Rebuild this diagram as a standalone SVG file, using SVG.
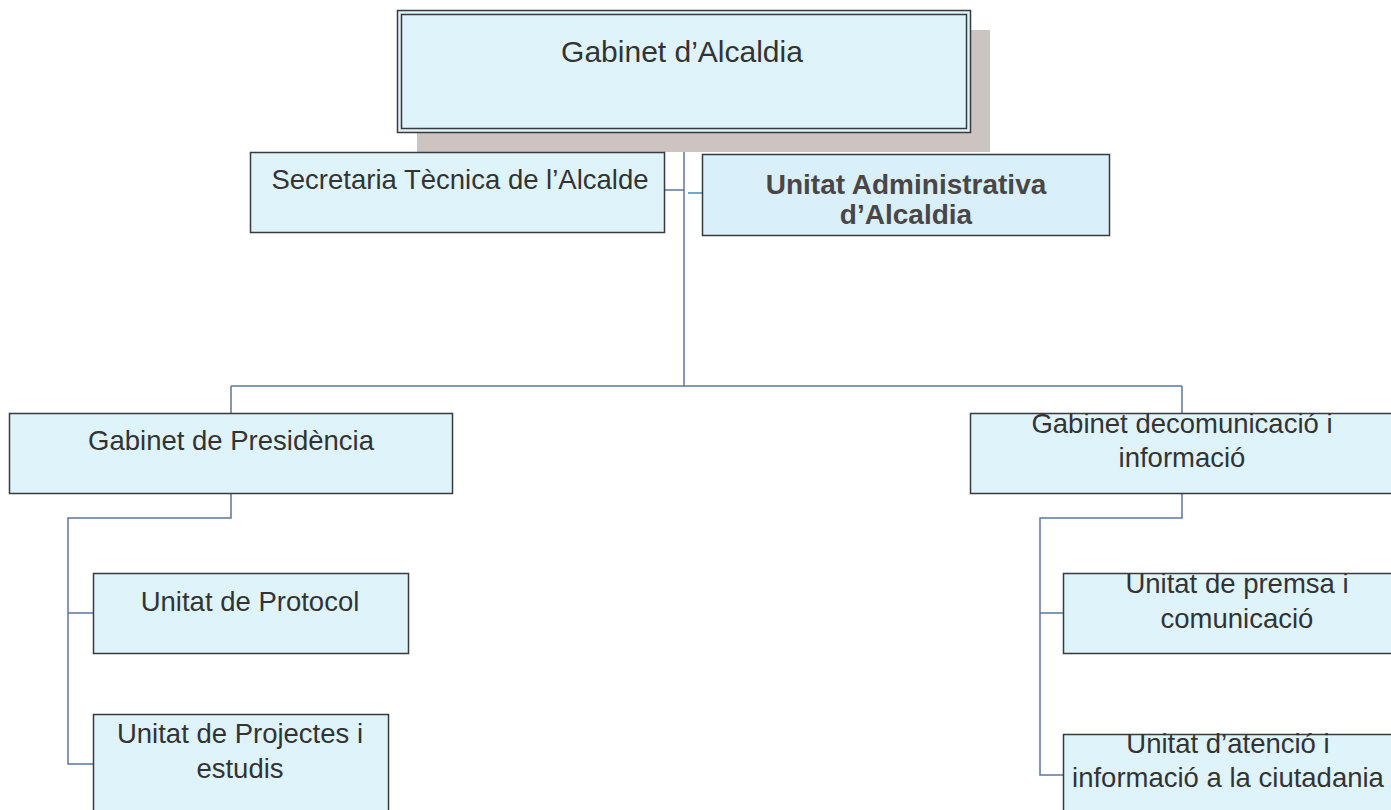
<svg xmlns="http://www.w3.org/2000/svg" width="1391" height="810" viewBox="0 0 1391 810">
<style>
.box{fill:#dff3fb;stroke:#3a3a3a;stroke-width:1.5}
.t{font-family:"Liberation Sans",Arial,sans-serif;font-size:27.5px;fill:#333;text-anchor:middle}
.b{font-weight:bold;fill:#4a4646;font-size:28px}
.c{fill:none;stroke:#5b76a0;stroke-width:1.5}
</style>
<rect width="1391" height="810" fill="#fff"/>
<g id="connectors">
<path class="c" d="M684,132V386M665,190H684M231,386H1182M231,386V413M1182,386V413"/>
<path d="M688,193H702" fill="none" stroke="#3a8fb5" stroke-width="1.5"/>
<path class="c" d="M231,493V518H68V764H93M68,613H93"/>
<path class="c" d="M1182,493V518H1040V775H1063M1040,613H1063"/>
</g>
<g id="gabinet-alcaldia">
<rect x="417" y="30" width="573" height="122" fill="#ccc4c1"/>
<rect x="397.5" y="10.5" width="573" height="122" fill="#dff3fb" stroke="#3a3a3a" stroke-width="1.5"/>
<rect x="401.5" y="14.5" width="565" height="114" fill="none" stroke="#3a3a3a" stroke-width="1.5"/>
<text class="t" x="682" y="62" style="font-size:30px">Gabinet d’Alcaldia</text>
</g>
<g id="secretaria">
<rect class="box" x="250.5" y="152.5" width="414" height="80"/>
<text class="t" x="460" y="189">Secretaria Tècnica de l’Alcalde</text>
</g>
<g id="unitat-admin">
<rect x="702.5" y="154.5" width="407" height="81" fill="#d9f0fa" stroke="#3a3a3a" stroke-width="1.5"/>
<text class="t b" x="906" y="194">Unitat Administrativa</text>
<text class="t b" x="906" y="224">d’Alcaldia</text>
</g>
<g id="presidencia">
<rect class="box" x="9.5" y="413.5" width="443" height="80"/>
<text class="t" x="231" y="450">Gabinet de Presidència</text>
</g>
<g id="comunicacio">
<rect class="box" x="970.5" y="413.5" width="440" height="80"/>
<text class="t" x="1182" y="433">Gabinet decomunicació i</text>
<text class="t" x="1182" y="467">informació</text>
</g>
<g id="protocol">
<rect class="box" x="93.5" y="573.5" width="315" height="80"/>
<text class="t" x="250" y="611">Unitat de Protocol</text>
</g>
<g id="projectes">
<rect class="box" x="93.5" y="714.5" width="295" height="110"/>
<text class="t" x="240" y="743">Unitat de Projectes i</text>
<text class="t" x="240" y="778">estudis</text>
</g>
<g id="premsa">
<rect class="box" x="1063.5" y="573.5" width="340" height="80"/>
<text class="t" x="1237" y="593">Unitat de premsa i</text>
<text class="t" x="1237" y="628">comunicació</text>
</g>
<g id="atencio">
<rect class="box" x="1063.5" y="734.5" width="340" height="100"/>
<text class="t" x="1228" y="753">Unitat d’atenció i</text>
<text class="t" x="1228" y="787">informació a la ciutadania</text>
</g>
</svg>
